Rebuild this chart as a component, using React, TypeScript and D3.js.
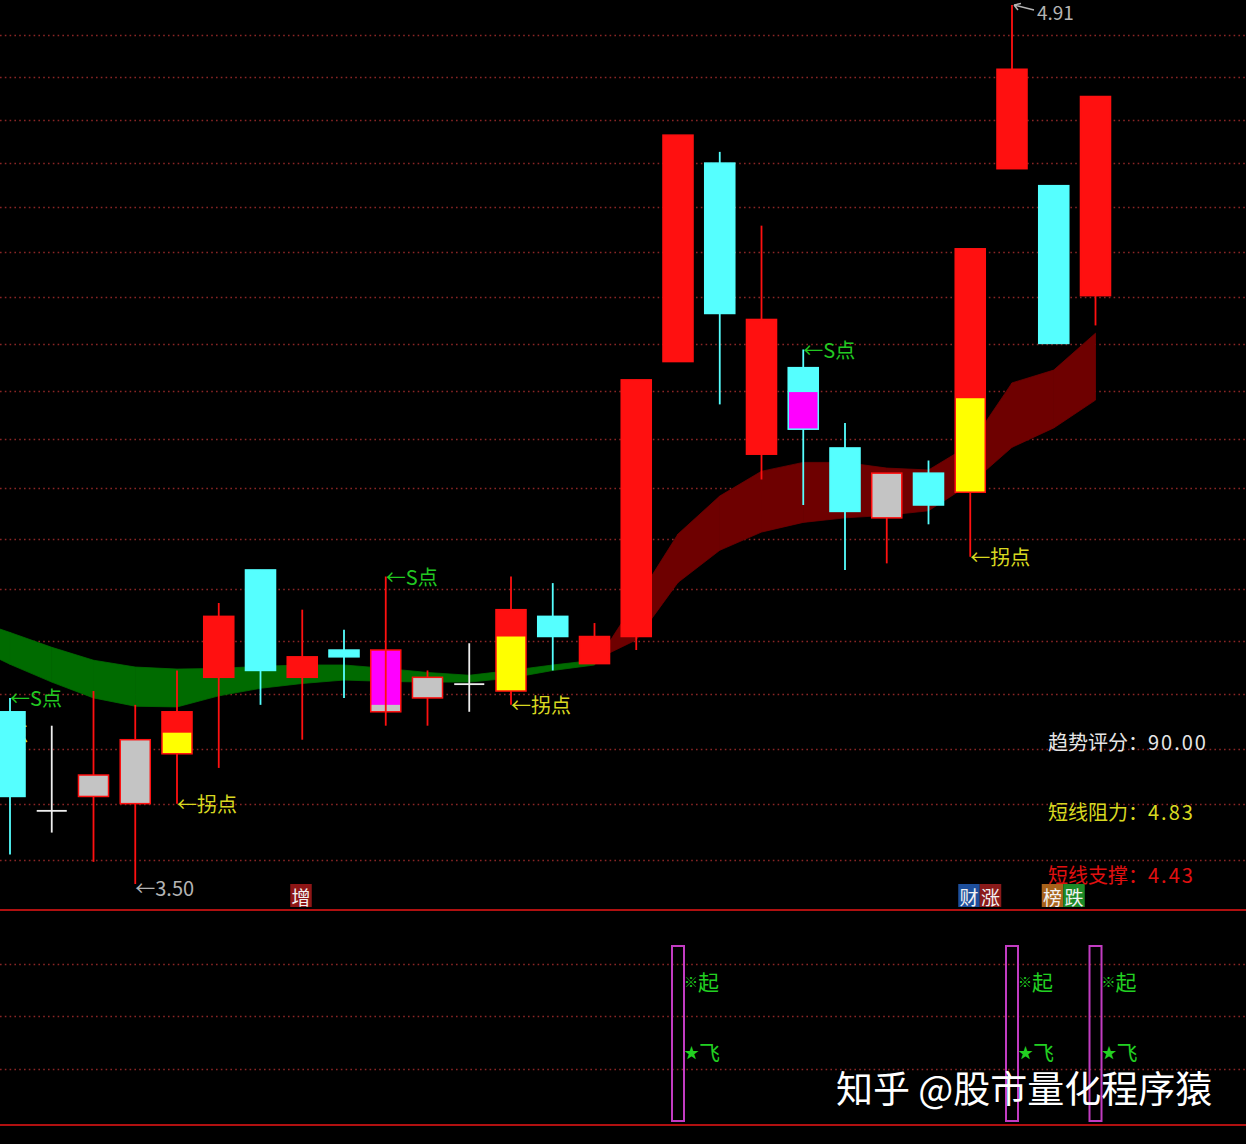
import React from 'react';
import * as d3 from 'd3';

const W = 1246;
const H = 1144;
const FONT = '"Noto Sans CJK SC", "Noto Sans", sans-serif';

// candles 1..27 (candle 0 sits just off the left edge)
const opens = [3.74, 3.60, 3.62, 3.61, 3.68, 3.79, 3.95, 3.79, 3.83, 3.74, 3.76, 3.78, 3.77, 3.88, 3.81, 3.85, 4.28, 4.62, 4.13, 4.27, 4.14, 4.03, 4.10, 4.07, 4.61, 4.58, 4.39];
const closes = [3.62, 3.60, 3.65, 3.70, 3.74, 3.88, 3.80, 3.82, 3.82, 3.83, 3.79, 3.78, 3.89, 3.85, 3.85, 4.25, 4.67, 4.36, 4.35, 4.17, 4.04, 4.10, 4.05, 4.47, 4.79, 4.31, 4.74];
const highs = [3.76, 3.72, 3.77, 3.75, 3.80, 3.90, 3.95, 3.89, 3.86, 3.94, 3.80, 3.84, 3.94, 3.93, 3.87, 4.25, 4.67, 4.64, 4.51, 4.30, 4.18, 4.10, 4.12, 4.47, 4.91, 4.58, 4.74];
const lows = [3.54, 3.57, 3.53, 3.50, 3.61, 3.66, 3.75, 3.70, 3.76, 3.72, 3.72, 3.74, 3.75, 3.80, 3.81, 3.83, 4.28, 4.21, 4.09, 4.05, 3.95, 3.96, 4.02, 3.97, 4.61, 4.31, 4.34];
const kinds = ['down', 'doji', 'flat', 'flat', 'up', 'up', 'down', 'up', 'down', 'flat', 'flat', 'doji', 'up', 'down', 'up', 'up', 'up', 'down', 'up', 'down', 'down', 'flat', 'down', 'up', 'up', 'down', 'up'];

// yellow lower part of the body (turning point) and magenta part (S point)
const yellowIdx = [5, 13, 24];
const yellowTop = [3.71, 3.85, 4.22];
const magentaIdx = [10, 20];
const magentaTop = [3.83, 4.23];
const magentaBottom = [3.75, 4.17];

// ribbon, candles 0..27
const maFast = [3.839, 3.809, 3.783, 3.760, 3.748, 3.747, 3.763, 3.774, 3.781, 3.786, 3.784, 3.783, 3.783, 3.789, 3.800, 3.808, 3.904, 4.005, 4.064, 4.103, 4.117, 4.117, 4.108, 4.105, 4.145, 4.245, 4.266, 4.327];
const maSlow = [3.877, 3.856, 3.834, 3.815, 3.805, 3.802, 3.803, 3.806, 3.808, 3.808, 3.803, 3.797, 3.793, 3.800, 3.808, 3.815, 3.845, 3.931, 3.980, 4.008, 4.023, 4.030, 4.034, 4.041, 4.083, 4.141, 4.172, 4.217];

const gridPrices = [3.532, 3.610, 3.687, 3.765, 3.843, 3.921, 3.998, 4.076, 4.154, 4.231, 4.309, 4.387, 4.464, 4.542, 4.620, 4.698, 4.775, 4.853];
const subGrid = [30, 60, 90];

const sIdx = [1, 10, 20];
const turnIdx = [0, 5, 13, 24];
const turnPrice = [3.71, 3.61, 3.75, 3.97];
const minIdx = 4;
const maxIdx = 25;

const tagIdx = [8, 24, 26];
const tagChars = [['增'], ['财', '涨'], ['榜', '跌']];
const tagBg = [['#8e1616'], ['#1d4f9c', '#8a1a1a'], ['#a8621a', '#1c8a26']];

const signalIdx = [17, 25, 27];

const infoLabels = ['趋势评分：', '短线阻力：', '短线支撑：'];
const infoValues = ['90.00', '4.83', '4.43'];
const infoColors = ['#e6e6e6', '#d8d820', '#e01010'];

const RED = '#ff1010';
const CYAN = '#55ffff';
const GREY = '#c4c4c4';
const WHITE = '#eeeeee';

export default function App() {
  const x = d3.scaleLinear().domain([1, 27]).range([10, 1095.5]);
  const y = d3.scaleLog().domain([3.5, 4.91]).range([884, 5]);
  const ys = d3.scaleLinear().domain([0, 100]).range([1121, 946]);
  const half = (x(2) - x(1)) * 0.36;

  // ribbon polygons, split where the two lines cross
  const polys: { pts: [number, number][]; up: boolean }[] = [];
  for (let i = 0; i < maFast.length - 1; i++) {
    const x0 = x(i), x1 = x(i + 1);
    const d0 = maFast[i] - maSlow[i];
    const d1 = maFast[i + 1] - maSlow[i + 1];
    if (d0 * d1 >= 0) {
      polys.push({
        pts: [[x0, y(maFast[i])], [x1, y(maFast[i + 1])], [x1, y(maSlow[i + 1])], [x0, y(maSlow[i])]],
        up: d0 + d1 > 0,
      });
    } else {
      const t = d0 / (d0 - d1);
      const xc = x0 + t * (x1 - x0);
      const yc = y(maFast[i] + t * (maFast[i + 1] - maFast[i]));
      polys.push({ pts: [[x0, y(maFast[i])], [xc, yc], [x0, y(maSlow[i])]], up: d0 > 0 });
      polys.push({ pts: [[xc, yc], [x1, y(maFast[i + 1])], [x1, y(maSlow[i + 1])]], up: d1 > 0 });
    }
  }

  const lineCol = (k: string) => (k === 'down' ? CYAN : k === 'doji' ? WHITE : RED);
  const fillCol = (k: string) => (k === 'up' ? RED : k === 'down' ? CYAN : GREY);

  const maxX = x(maxIdx);
  const maxY = y(highs[maxIdx - 1]);

  return (
    <svg width={W} height={H} style={{ position: 'absolute', left: 0, top: 0, display: 'block', background: '#000' }}>
      <rect width={W} height={H} fill="#000" />

      {gridPrices.map((p, i) => (
        <line key={'g' + i} x1={0} x2={W} y1={Math.round(y(p)) + 0.5} y2={Math.round(y(p)) + 0.5}
          stroke="#8a2626" strokeWidth={1.5} strokeDasharray="1.6 3.2" />
      ))}
      {subGrid.map((v, i) => (
        <line key={'sg' + i} x1={0} x2={W} y1={Math.round(ys(v)) + 0.5} y2={Math.round(ys(v)) + 0.5}
          stroke="#8a2626" strokeWidth={1.5} strokeDasharray="1.6 3.2" />
      ))}

      {polys.map((p, i) => (
        <polygon key={'b' + i} points={p.pts.map((q) => q.join(',')).join(' ')}
          fill={p.up ? '#6e0000' : '#006b00'} stroke={p.up ? '#6e0000' : '#006b00'} strokeWidth={0.8} />
      ))}

      {turnIdx.map((i, k) => (
        <text key={'t' + k} x={x(i)} y={y(turnPrice[k])} fill="#d8d820" fontSize={20}
          fontFamily={FONT} dominantBaseline="central">←拐点</text>
      ))}
      {sIdx.map((i, k) => (
        <text key={'s' + k} x={x(i)} y={y(highs[i - 1])} fill="#22c822" fontSize={20}
          fontFamily={FONT} dominantBaseline="central">←S点</text>
      ))}
      <text x={x(minIdx)} y={y(lows[minIdx - 1]) + 3} fill="#b4b4b4" fontSize={20}
        fontFamily={FONT} dominantBaseline="central">←3.50</text>
      <path d={`M${maxX + 2},${maxY} L${maxX + 22},${maxY + 5} M${maxX + 2},${maxY} l7,-1.5 M${maxX + 2},${maxY} l4,5`}
        stroke="#b4b4b4" strokeWidth={1.5} fill="none" />
      <text x={maxX + 25} y={maxY + 6} fill="#b4b4b4" fontSize={19} fontFamily={FONT}
        dominantBaseline="central">4.91</text>

      {opens.map((o, k) => {
        const i = k + 1;
        const cx = x(i);
        const kind = kinds[k];
        const col = lineCol(kind);
        const top = y(Math.max(o, closes[k]));
        const bot = y(Math.min(o, closes[k]));
        const wick = (
          <line x1={cx} x2={cx} y1={y(highs[k])} y2={y(lows[k])} stroke={col} strokeWidth={1.8} />
        );
        if (kind === 'doji') {
          return (
            <g key={'c' + i}>
              {wick}
              <line x1={cx - half} x2={cx + half} y1={top} y2={top} stroke={col} strokeWidth={1.8} />
            </g>
          );
        }
        const yk = yellowIdx.indexOf(i);
        const mk = magentaIdx.indexOf(i);
        return (
          <g key={'c' + i}>
            {wick}
            <rect x={cx - half} y={top} width={half * 2} height={Math.max(bot - top, 1)} fill={fillCol(kind)} />
            {yk >= 0 && (
              <rect x={cx - half} y={y(yellowTop[yk])} width={half * 2} height={bot - y(yellowTop[yk])} fill="#ffff00" />
            )}
            {mk >= 0 && (
              <rect x={cx - half} y={y(magentaTop[mk])} width={half * 2}
                height={y(magentaBottom[mk]) - y(magentaTop[mk])} fill="#ff00ff" />
            )}
            {mk >= 0 && kind === 'flat' && (
              <line x1={cx} x2={cx} y1={top} y2={bot} stroke={col} strokeWidth={1.8} />
            )}
            <rect x={cx - half} y={top} width={half * 2} height={Math.max(bot - top, 1)} fill="none"
              stroke={col} strokeWidth={1.5} />
          </g>
        );
      })}

      {tagIdx.map((i, k) => (
        <g key={'tag' + k}>
          {tagChars[k].map((ch, j) => (
            <g key={j}>
              <rect x={x(i) - 12 + j * 21.5} y={884} width={21.5} height={23} fill={tagBg[k][j]} />
              <text x={x(i) - 12 + j * 21.5 + 10.75} y={896} fill="#f2f2f2" fontSize={19} fontFamily={FONT}
                textAnchor="middle" dominantBaseline="central">{ch}</text>
            </g>
          ))}
        </g>
      ))}

      <line x1={0} x2={W} y1={910} y2={910} stroke="#b01010" strokeWidth={2} />
      <line x1={0} x2={W} y1={1125} y2={1125} stroke="#b01010" strokeWidth={2} />

      {signalIdx.map((i, k) => (
        <g key={'sig' + k}>
          <rect x={x(i) - 6} y={ys(100)} width={12} height={ys(0) - ys(100)} fill="none"
            stroke="#c23cc2" strokeWidth={2} />
          <text x={x(i) + 6} y={ys(80)} fill="#22d022" fontFamily={FONT} dominantBaseline="central">
            <tspan fontSize={14}>※</tspan><tspan fontSize={21}>起</tspan>
          </text>
          <text x={x(i) + 6} y={ys(40)} fill="#22d022" fontFamily={FONT} dominantBaseline="central">
            <tspan fontSize={15}>★</tspan><tspan fontSize={21}>飞</tspan>
          </text>
        </g>
      ))}

      {infoLabels.map((t, k) => (
        <text key={'info' + k} x={1048} y={[741, 811, 874][k]} fill={infoColors[k]} fontSize={20}
          fontFamily={FONT} dominantBaseline="central">
          {t}<tspan letterSpacing={2}>{infoValues[k]}</tspan>
        </text>
      ))}

      <text x={836} y={1103} fill="#ffffff" fontSize={37} fontFamily={FONT}>知乎 @股市量化程序猿</text>
    </svg>
  );
}
